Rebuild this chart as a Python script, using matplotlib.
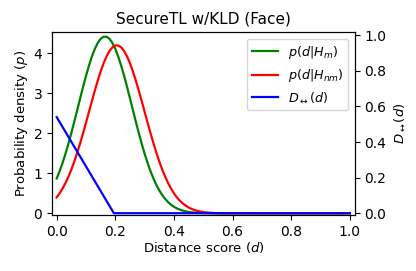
import matplotlib
matplotlib.use("Agg")
import matplotlib.pyplot as plt

# Distance score samples
d = [0.00, 0.01, 0.02, 0.03, 0.04, 0.05, 0.06, 0.07, 0.08, 0.09,
     0.10, 0.11, 0.12, 0.13, 0.14, 0.15, 0.16, 0.17, 0.18, 0.19,
     0.20, 0.21, 0.22, 0.23, 0.24, 0.25, 0.26, 0.27, 0.28, 0.29,
     0.30, 0.31, 0.32, 0.33, 0.34, 0.35, 0.36, 0.37, 0.38, 0.39,
     0.40, 0.41, 0.42, 0.43, 0.44, 0.45, 0.46, 0.47, 0.48, 0.49,
     0.50, 0.51, 0.52, 0.53, 0.54, 0.55, 0.56, 0.57, 0.58, 0.59,
     0.60, 0.70, 0.80, 0.90, 1.00]

# p(d|H_m) (green)
p_match = [0.870, 1.053, 1.259, 1.489, 1.738, 2.007, 2.288, 2.578, 2.871, 3.159,
           3.434, 3.689, 3.916, 4.108, 4.258, 4.361, 4.413, 4.413, 4.361, 4.258,
           4.108, 3.916, 3.689, 3.434, 3.159, 2.871, 2.578, 2.288, 2.007, 1.738,
           1.489, 1.259, 1.053, 0.870, 0.710, 0.572, 0.456, 0.359, 0.279, 0.215,
           0.163, 0.123, 0.091, 0.067, 0.048, 0.035, 0.024, 0.017, 0.012, 0.008,
           0.005, 0.004, 0.002, 0.0015, 0.001, 0.000, 0.000, 0.000, 0.000, 0.000,
           0.000, 0.000, 0.000, 0.000, 0.000]

# p(d|H_nm) (red)
p_nonmatch = [0.399, 0.500, 0.618, 0.756, 0.915, 1.094, 1.294, 1.514, 1.751, 2.003,
              2.266, 2.534, 2.803, 3.065, 3.315, 3.546, 3.750, 3.922, 4.056, 4.147,
              4.194, 4.194, 4.147, 4.056, 3.922, 3.750, 3.546, 3.315, 3.065, 2.803,
              2.534, 2.266, 2.003, 1.751, 1.514, 1.294, 1.094, 0.915, 0.756, 0.618,
              0.500, 0.399, 0.316, 0.247, 0.191, 0.146, 0.110, 0.082, 0.061, 0.045,
              0.032, 0.023, 0.016, 0.011, 0.008, 0.005, 0.004, 0.002, 0.002, 0.001,
              0.001, 0.000, 0.000, 0.000, 0.000]

# D_<->(d) (blue, right axis)
d_div = [0.00, 0.195, 1.00]
D_div = [0.54, 0.00, 0.00]

title = "SecureTL w/KLD (Face)"
xticks = [0.0, 0.2, 0.4, 0.6, 0.8, 1.0]
yticks_left = [0, 1, 2, 3, 4]
yticks_right = [0.0, 0.2, 0.4, 0.6, 0.8, 1.0]

plt.rcParams['font.size'] = 10
fig = plt.figure(figsize=(4.16, 2.71), dpi=100)
ax = fig.add_axes([0.125, 0.207, 0.728, 0.674])
ax2 = ax.twinx()

l1, = ax.plot(d, p_match, color='green', lw=1.6, label=r'$p(d|H_m)$')
l2, = ax.plot(d, p_nonmatch, color='red', lw=1.6, label=r'$p(d|H_{nm})$')
l3, = ax2.plot(d_div, D_div, color='blue', lw=1.6, label=r'$D_{\leftrightarrow}(d)$')

ax.set_xlim(-0.016, 1.017)
ax.set_ylim(-0.04, 4.525)
ax2.set_ylim(-0.0095, 1.017)
ax.set_xticks(xticks)
ax.set_xticklabels([f"{t:.1f}" for t in xticks])
ax.set_yticks(yticks_left)
ax2.set_yticks(yticks_right)
ax2.set_yticklabels([f"{t:.1f}" for t in yticks_right])

ax.set_xlabel(r'Distance score ($d$)', fontsize=9.5, labelpad=1)
ax.set_ylabel(r'Probability density ($p$)', fontsize=9.5, labelpad=2.5)
ax2.set_ylabel(r'$D_{\leftrightarrow}(d)$', fontsize=9.5)
ax.set_title(title, fontsize=11)

ax2.legend(handles=[l1, l2, l3], loc='upper right', fontsize=9.2)

fig.savefig('out.png', dpi=100)
